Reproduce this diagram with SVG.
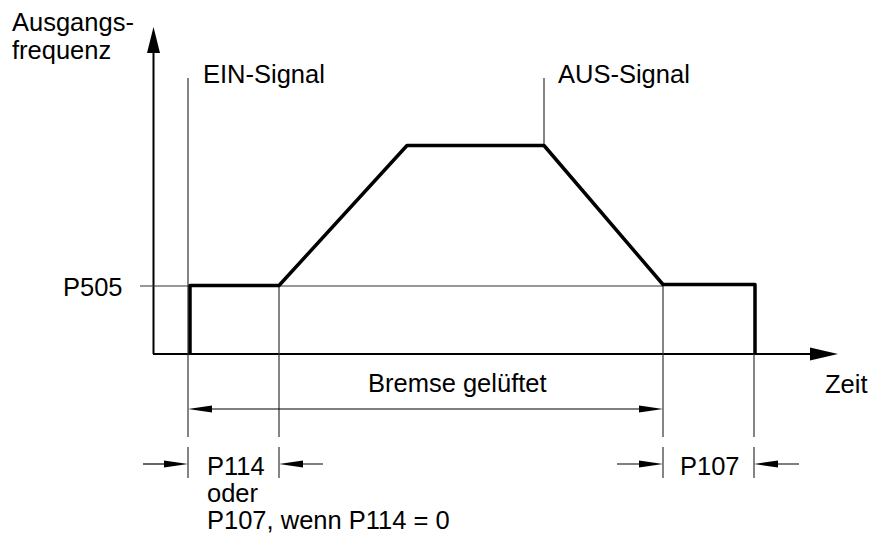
<svg xmlns="http://www.w3.org/2000/svg" width="871" height="534" viewBox="0 0 871 534">
<style>
text{font-family:"Liberation Sans",Arial,sans-serif;font-size:25.5px;fill:#000}
.thin{stroke:#333;stroke-width:1.2;fill:none}
.axis{stroke:#000;stroke-width:2;fill:none}
.curve{stroke:#000;stroke-width:3.5;fill:none;stroke-linejoin:round}
.dim{stroke:#000;stroke-width:1.2;fill:none}
.ah{fill:#000}
</style>
<rect width="871" height="534" fill="#fff"/>
<g id="connectors">
  <line class="axis" x1="153.5" y1="50" x2="153.5" y2="354"/>
  <polygon class="ah" points="153.5,27 147,53 160,53"/>
  <line class="axis" x1="153" y1="354" x2="812" y2="354"/>
  <polygon class="ah" points="838,354 810,347.5 810,360.5"/>
  <line class="thin" x1="140" y1="286" x2="663" y2="286"/>
  <line class="thin" x1="188" y1="78" x2="188" y2="437"/>
  <line class="thin" x1="544" y1="78" x2="544" y2="145"/>
  <line class="thin" x1="279" y1="286" x2="279" y2="437"/>
  <line class="thin" x1="663" y1="284" x2="663" y2="437"/>
  <line class="thin" x1="754" y1="354" x2="754" y2="437"/>
  <line class="thin" x1="188" y1="447" x2="188" y2="478"/>
  <line class="thin" x1="279" y1="447" x2="279" y2="478"/>
  <line class="thin" x1="663" y1="447" x2="663" y2="478"/>
  <line class="thin" x1="754" y1="447" x2="754" y2="478"/>
  <path class="curve" d="M190,354 V285.5 H279 L407,145.5 H544 L663,284.5 H755 V354"/>
  <line class="dim" x1="200" y1="409" x2="650" y2="409"/>
  <polygon class="ah" points="188,409 212,405.5 212,412.5"/>
  <polygon class="ah" points="663,409 639,405.5 639,412.5"/>
  <line class="dim" x1="143" y1="464" x2="175" y2="464"/>
  <polygon class="ah" points="188,464 164,460.5 164,467.5"/>
  <line class="dim" x1="290" y1="464" x2="323" y2="464"/>
  <polygon class="ah" points="279,464 303,460.5 303,467.5"/>
  <line class="dim" x1="617" y1="464" x2="650" y2="464"/>
  <polygon class="ah" points="663,464 639,460.5 639,467.5"/>
  <line class="dim" x1="765" y1="464" x2="799" y2="464"/>
  <polygon class="ah" points="754,464 778,460.5 778,467.5"/>
</g>
<g id="label-yaxis"><text x="12" y="31">Ausgangs-</text><text x="12" y="59">frequenz</text></g>
<g id="label-ein"><text x="203" y="83">EIN-Signal</text></g>
<g id="label-aus"><text x="558" y="83">AUS-Signal</text></g>
<g id="label-p505"><text x="63" y="296">P505</text></g>
<g id="label-bremse"><text x="368" y="392">Bremse gelüftet</text></g>
<g id="label-zeit"><text x="825" y="393">Zeit</text></g>
<g id="label-p114"><text x="207" y="475">P114</text><text x="207" y="502">oder</text><text x="207" y="529">P107, wenn P114 = 0</text></g>
<g id="label-p107"><text x="680" y="475">P107</text></g>
</svg>
